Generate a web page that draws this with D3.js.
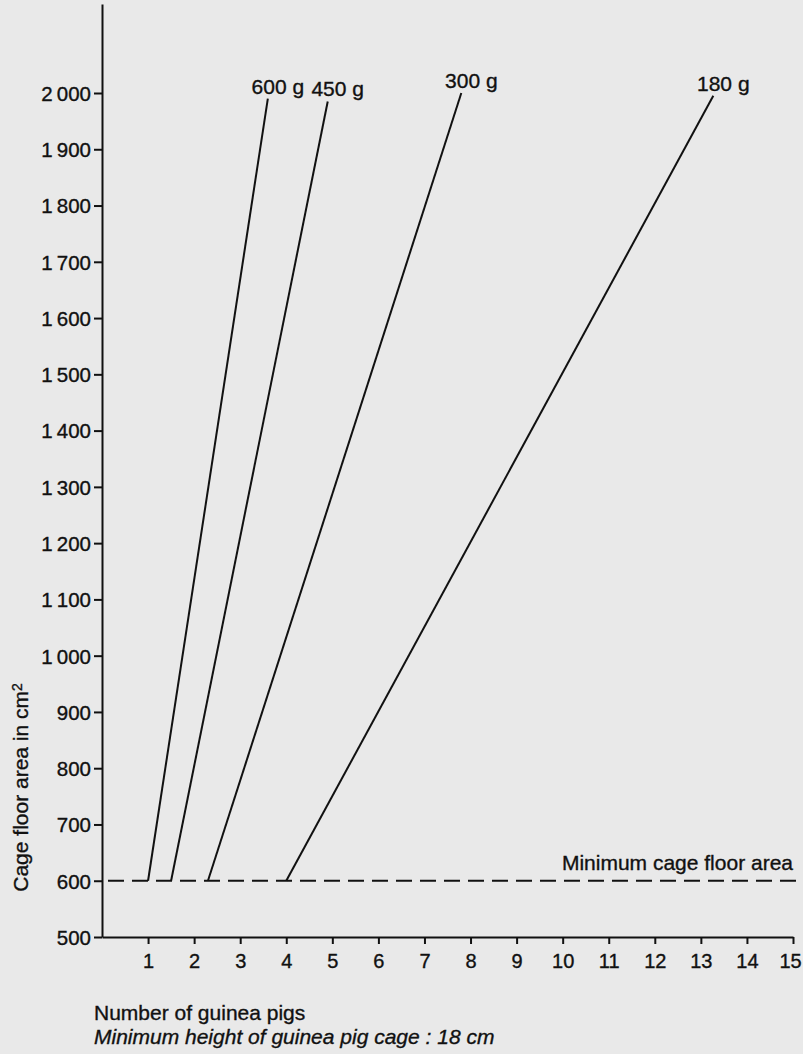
<!DOCTYPE html>
<html>
<head>
<meta charset="utf-8">
<script src="https://cdn.jsdelivr.net/npm/d3@7"></script>
<style>
  html, body { margin: 0; padding: 0; background: #e9e9e9; }
  svg { display: block; }
  text { font-family: "Liberation Sans", Arial, Helvetica, sans-serif; fill: #111;
         stroke: #111; stroke-width: 0.35px; }
</style>
</head>
<body>
<svg id="chart" width="803" height="1054"></svg>
<script>
// Guinea pig cage floor area by number of animals, one line per body weight
const weightLabels = ["600 g", "450 g", "300 g", "180 g"];
const startPigs    = [1, 1.5, 2.3, 4];
const startArea    = [600, 600, 600, 600];
const endPigs      = [3.6, 4.9, 7.8, 13.27];
const endArea      = [1990, 1985, 2000, 1995];

const minimumArea      = 600;
const minimumPigsRange = [0.13, 15.1];
const minimumLabel     = "Minimum cage floor area";

const xTickValues = [1, 2, 3, 4, 5, 6, 7, 8, 9, 10, 11, 12, 13, 14, 15];
const yTickValues = [500, 600, 700, 800, 900, 1000, 1100, 1200, 1300, 1400,
                     1500, 1600, 1700, 1800, 1900, 2000];
const yAxisTop    = 2158;

const xTitle   = "Number of guinea pigs";
const subTitle = "Minimum height of guinea pig cage : 18 cm";

const svg = d3.select("#chart");
const ink = "#111";

const x = d3.scaleLinear().domain([0, 15]).range([102, 793]);
const y = d3.scaleLinear().domain([500, 2000]).range([937, 93]);

// y axis runs past the last tick to the top edge
const yAxisScale = y.copy().domain([500, yAxisTop]).range([937, y(yAxisTop)]);

const fmtArea = d => d >= 1000
  ? Math.floor(d / 1000) + "\u2009" + String(d % 1000).padStart(3, "0")
  : String(d);

const yAxis = svg.append("g")
  .attr("transform", `translate(${x(0)},0)`)
  .call(d3.axisLeft(yAxisScale).tickValues(yTickValues).tickSize(8)
        .tickSizeOuter(0).tickPadding(3).tickFormat(fmtArea));
yAxis.select(".domain").attr("stroke", ink).attr("stroke-width", 2);
yAxis.selectAll(".tick line").attr("stroke", ink).attr("stroke-width", 2);
yAxis.selectAll(".tick text")
  .attr("fill", ink).style("font-size", "20.5px").attr("dy", "0.36em");

const xAxis = svg.append("g")
  .attr("transform", `translate(0,${y(500)})`)
  .call(d3.axisBottom(x).tickValues(xTickValues).tickSize(7)
        .tickSizeOuter(0).tickPadding(10).tickFormat(d3.format("d")));
xAxis.select(".domain").attr("stroke", ink).attr("stroke-width", 2);
xAxis.selectAll(".tick line").attr("stroke", ink).attr("stroke-width", 2);
xAxis.selectAll(".tick text").attr("fill", ink).style("font-size", "20px");
// keep the last label inside the page edge
xAxis.selectAll(".tick text").filter(d => d === 15).attr("dx", -3);

// Minimum floor area reference line
svg.append("line")
  .attr("x1", x(minimumPigsRange[0])).attr("x2", x(minimumPigsRange[1]))
  .attr("y1", y(minimumArea)).attr("y2", y(minimumArea))
  .attr("stroke", ink).attr("stroke-width", 2)
  .attr("stroke-dasharray", "16,8");

svg.append("text")
  .attr("x", x(15)).attr("y", y(minimumArea) - 11)
  .attr("text-anchor", "end")
  .style("font-size", "21px")
  .text(minimumLabel);

// Weight lines
const series = weightLabels.map((label, i) => ({
  label,
  points: [[startPigs[i], startArea[i]], [endPigs[i], endArea[i]]]
}));

const lineGen = d3.line().x(d => x(d[0])).y(d => y(d[1]));

svg.append("g").selectAll("path")
  .data(series)
  .join("path")
  .attr("d", d => lineGen(d.points))
  .attr("fill", "none")
  .attr("stroke", ink)
  .attr("stroke-width", 2);

svg.append("g").selectAll("text")
  .data(series)
  .join("text")
  .attr("x", d => x(d.points[1][0]) + 10)
  .attr("y", d => y(d.points[1][1]) - 5)
  .attr("text-anchor", "middle")
  .style("font-size", "21px")
  .text(d => d.label);

// Axis titles
const yTitle = svg.append("text")
  .attr("transform", `translate(28,${y(600) + 11}) rotate(-90)`)
  .style("font-size", "21px");
yTitle.append("tspan").text("Cage floor area in cm");
yTitle.append("tspan").attr("dy", "-0.45em").style("font-size", "14px").text("2");

svg.append("text")
  .attr("x", 94).attr("y", 1020)
  .style("font-size", "21px")
  .text(xTitle);

svg.append("text")
  .attr("x", 94).attr("y", 1044)
  .style("font-size", "21px").style("font-style", "italic")
  .text(subTitle);
</script>
</body>
</html>
